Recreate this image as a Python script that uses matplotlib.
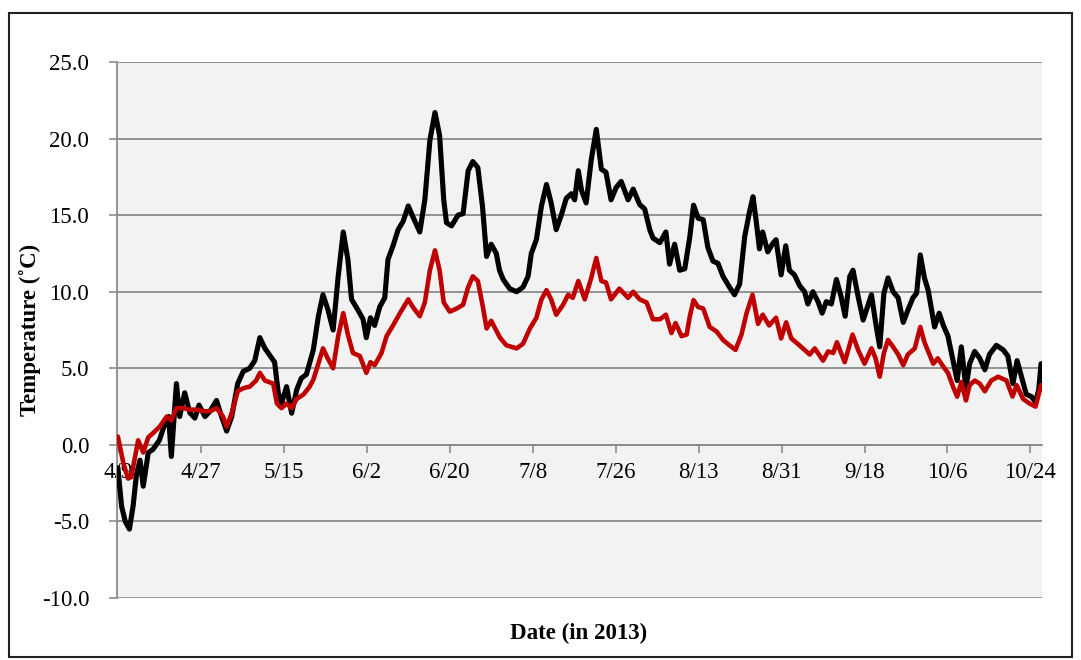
import matplotlib
matplotlib.use("Agg")
import matplotlib.pyplot as plt
from matplotlib.patches import Rectangle
from matplotlib.ticker import FormatStrFormatter

plt.rcParams['font.family'] = ['Liberation Serif', 'DejaVu Serif']
plt.rcParams['axes.unicode_minus'] = False

# days counted from 4/9/2013
upper_days = [0, 0.8, 1.6, 2.5, 3.3, 4.0, 4.8, 5.5, 6.6, 7.6, 9, 10, 11, 11.6, 12.7, 13.4, 14.5, 15.6,
              16.7, 17.6, 18.9, 20, 21.4, 22.5, 23.6, 24.7, 26, 27.2, 28.6, 29.7, 30.8, 31.9, 33.3, 34,
              34.8, 35.5, 36.6, 37.7, 38.8, 39.8, 40.9, 42.4, 43.5, 44.5, 45.6, 46.7, 47.8, 48.9, 49.9,
              50.7, 52.1, 53.2, 53.9, 54.8, 55.7, 56.8, 57.9, 58.6, 59.7, 60.8, 61.9, 63, 64, 65.5, 66.6,
              67.7, 68.8, 69.8, 70.7, 71.3, 72.4, 73.8, 74.9, 76, 77, 78.1, 79.1, 80, 81, 82.1, 82.8,
              83.6, 85, 86.5, 87.9, 89, 89.7, 90.8, 91.9, 93, 94, 95.1, 96.2, 97.3, 98.4, 99.1, 99.9,
              100.6, 101.6, 102.7, 103.8, 104.9, 105.9, 107, 108.1, 109.2, 110.7, 111.8, 113.2, 114.3,
              115.4, 116.1, 117.6, 118.9, 119.7, 120.8, 121.9, 123, 124.1, 124.9, 125.9, 127, 128,
              129.1, 130.2, 131.3, 132.7, 133.8, 134.9, 136, 137.1, 137.8, 138.5, 139.2, 139.9, 141,
              142.1, 142.8, 143.9, 144.9, 145.7, 146.8, 147.9, 149, 149.7, 150.8, 151.9, 152.8, 153.7,
              154.8, 155.9, 156.9, 157.8, 158.8, 159.5, 160.6, 161.7, 163.5, 164.4, 165.3, 166.2,
              167.1, 168.2, 169.3, 170.4, 171.4, 172.5, 173.3, 174.1, 175, 175.8, 176.5, 177.2, 178.2,
              179.1, 180.1, 181.2, 182.1, 183, 184, 184.8, 185.9, 187, 188.1, 189.1, 190.6, 192.1,
              193.1, 194.2, 195.1, 196, 197.1, 198.2, 199.1, 199.8, 200.3]
upper_temp = [-1.5, -4.0, -5.0, -5.5, -4.0, -2.0, -1.0, -2.7, -0.5, -0.3, 0.3, 1.2, 1.85, -0.76, 4.0,
              1.85, 3.4, 2.1, 1.75, 2.6, 1.85, 2.2, 2.9, 1.85, 0.9, 1.85, 4.0, 4.8, 5.0, 5.5, 7.0, 6.3,
              5.7, 5.4, 3.4, 2.7, 3.8, 2.07, 3.6, 4.35, 4.6, 6.2, 8.4, 9.8, 8.8, 7.5, 11.0, 13.9, 12.1,
              9.5, 8.8, 8.2, 7.0, 8.3, 7.8, 9.0, 9.6, 12.1, 13.0, 14.05, 14.6, 15.6, 14.9, 13.9, 16.0,
              19.9, 21.7, 20.2, 16.0, 14.5, 14.3, 15.0, 15.1, 17.9, 18.5, 18.1, 15.6, 12.3, 13.1, 12.5,
              11.4, 10.8, 10.2, 10.0, 10.3, 11.0, 12.5, 13.4, 15.6, 17.0, 15.8, 14.05, 15.0, 16.1, 16.4,
              16.0, 17.9, 16.6, 15.8, 18.6, 20.6, 18.0, 17.8, 16.0, 16.8, 17.2, 16.0, 16.7, 15.7, 15.4,
              14.05, 13.5, 13.2, 13.9, 11.8, 13.1, 11.4, 11.5, 13.6, 15.65, 14.8, 14.7, 12.9, 12.0,
              11.85, 11.0, 10.3, 9.8, 10.5, 13.6, 15.3, 16.2, 14.6, 12.8, 13.9, 12.6, 13.15, 13.4,
              11.1, 13.0, 11.4, 11.1, 10.4, 10.0, 9.2, 10.0, 9.35, 8.6, 9.35, 9.2, 10.8, 9.7, 8.4,
              11.0, 11.4, 9.7, 8.15, 9.8, 8.0, 6.4, 9.9, 10.9, 10.0, 9.6, 8.0, 8.8, 9.6, 9.9, 12.4,
              10.9, 10.1, 8.9, 7.7, 8.6, 7.8, 7.1, 5.5, 4.2, 6.4, 3.7, 5.3, 6.1, 5.65, 4.9, 5.9, 6.5,
              6.2, 5.8, 4.0, 5.5, 4.5, 3.3, 3.15, 2.8, 3.6, 5.3]

lower_days = [0, 1.2, 2.2, 2.9, 4.4, 5.5, 6.6, 7.6, 9.1, 10.6, 11.6, 12.7, 14.2, 15.6, 17, 18.6, 20,
              21.4, 22.8, 23.6, 24.7, 26, 27.2, 28.6, 30, 30.8, 31.9, 33.7, 34.5, 35.5, 36.6, 37.7,
              38.8, 40.3, 41.6, 42.4, 43.5, 44.5, 45.6, 46.7, 47.8, 48.9, 49.9, 51, 52.5, 53.9, 54.8,
              55.7, 57.2, 58.3, 59.7, 61.2, 63, 64, 65.5, 66.6, 67.7, 68.8, 69.8, 70.7, 72, 73.5, 74.9,
              76, 77, 78.1, 79.2, 80, 81, 82.9, 84.3, 86.5, 87.9, 89.4, 90.8, 91.9, 93, 94, 95.1, 96.6,
              97.7, 98.7, 99.9, 101.3, 102.7, 103.8, 104.9, 105.9, 107, 108.8, 110.7, 111.8, 113.2,
              114.7, 116.1, 117.6, 118.9, 120.1, 121, 122.3, 123.4, 124.1, 124.9, 125.9, 127, 128.4,
              129.9, 131.3, 132.7, 134, 135.3, 136.4, 137.7, 138.9, 139.9, 141.3, 142.8, 143.9, 145,
              146.1, 147.5, 149, 150.1, 151.2, 153, 154.1, 155.2, 156, 157.7, 159.4, 160.6, 162,
              163.5, 164.4, 165.3, 166.2, 167.1, 168.2, 169.3, 170.4, 171.4, 172.9, 174.1, 175, 176.1,
              176.9, 177.9, 179.1, 180.1, 181.2, 182.1, 183, 184, 184.8, 185.9, 187, 188.1, 189.5,
              191, 192.8, 194.1, 195, 196.4, 197.8, 199.1, 200.3]
lower_temp = [0.54, -1.2, -2.2, -2.1, 0.3, -0.5, 0.5, 0.76, 1.2, 1.85, 1.6, 2.4, 2.4, 2.3, 2.3, 2.2,
              2.2, 2.4, 1.85, 1.2, 2.07, 3.5, 3.7, 3.8, 4.2, 4.7, 4.2, 4.0, 2.7, 2.4, 2.7, 2.4, 3.0,
              3.3, 3.8, 4.25, 5.3, 6.3, 5.6, 5.0, 7.1, 8.6, 7.2, 6.0, 5.8, 4.7, 5.4, 5.2, 6.0, 7.1,
              7.8, 8.6, 9.5, 9.0, 8.4, 9.3, 11.4, 12.7, 11.4, 9.3, 8.7, 8.9, 9.15, 10.3, 11.0, 10.7,
              9.0, 7.6, 8.1, 7.0, 6.5, 6.3, 6.6, 7.6, 8.3, 9.5, 10.1, 9.5, 8.5, 9.15, 9.8, 9.6, 10.7,
              9.5, 10.9, 12.2, 10.7, 10.6, 9.5, 10.2, 9.6, 10.0, 9.5, 9.3, 8.2, 8.2, 8.5, 7.3, 7.95,
              7.1, 7.2, 8.4, 9.45, 9.0, 8.9, 7.7, 7.4, 6.85, 6.5, 6.2, 7.2, 8.6, 9.8, 7.9, 8.5, 7.8,
              8.3, 6.95, 8.0, 6.95, 6.6, 6.2, 5.9, 6.3, 5.5, 6.1, 6.0, 6.7, 5.4, 7.2, 6.2, 5.3, 6.3,
              5.65, 4.45, 6.0, 6.85, 6.4, 5.9, 5.2, 5.9, 6.3, 7.7, 6.7, 5.9, 5.3, 5.65, 5.1, 4.7, 3.8,
              3.15, 4.1, 2.9, 3.9, 4.2, 4.0, 3.5, 4.2, 4.45, 4.2, 3.15, 3.9, 3.0, 2.7, 2.5, 3.9]

tick_days = [0, 18, 36, 54, 72, 90, 108, 126, 144, 162, 180, 198]
tick_labels = ['4/9', '4/27', '5/15', '6/2', '6/20', '7/8', '7/26', '8/13', '8/31', '9/18', '10/6', '10/24']

fig = plt.figure(figsize=(10.81, 6.6), dpi=100)
ax = fig.add_axes([0.1082, 0.0939, 0.8557, 0.8122])
ax.set_facecolor('#f2f2f2')

grid_c = '#8c8c8c'
ax.plot(upper_days, upper_temp, color='black', lw=3.7, solid_joinstyle='round',
        solid_capstyle='round', zorder=3)
ax.plot(lower_days, lower_temp, color='#c00000', lw=3.3, solid_joinstyle='round',
        solid_capstyle='round', zorder=3)

ax.set_xlim(-0.2, 200.5)
ax.set_ylim(-10, 25)
ax.set_yticks(range(-10, 30, 5))
ax.yaxis.set_major_formatter(FormatStrFormatter('%.1f'))
ax.set_xticks(tick_days)
ax.set_xticklabels(tick_labels)

ax.grid(axis='y', color=grid_c, lw=1.3, zorder=1)
ax.set_axisbelow(True)

for s in ['top', 'right']:
    ax.spines[s].set_visible(False)
ax.spines['left'].set_color(grid_c)
ax.spines['left'].set_linewidth(1.3)
ax.spines['bottom'].set_position(('data', 0))
ax.spines['bottom'].set_color(grid_c)
ax.spines['bottom'].set_linewidth(1.3)

ax.tick_params(axis='y', length=6, width=1.2, color=grid_c, pad=14, labelsize=16.5)
ax.tick_params(axis='x', length=6, width=1.2, color=grid_c, pad=6, labelsize=16.5)

fig.text(30 / 1081, 0.5, 'Temperature (\u02daC)', fontsize=16.5, fontweight='bold',
         rotation=90, ha='center', va='center')
fig.text(0.535, 0.04, 'Date (in 2013)', fontsize=16.5, fontweight='bold', ha='center', va='center')

# frame around the whole chart
fig.patches.append(Rectangle((9 / 1081, 3 / 660), 1063 / 1081, 644 / 660, transform=fig.transFigure,
                             fill=False, edgecolor='#222222', lw=1.5))

fig.savefig('out.png', dpi=100)
